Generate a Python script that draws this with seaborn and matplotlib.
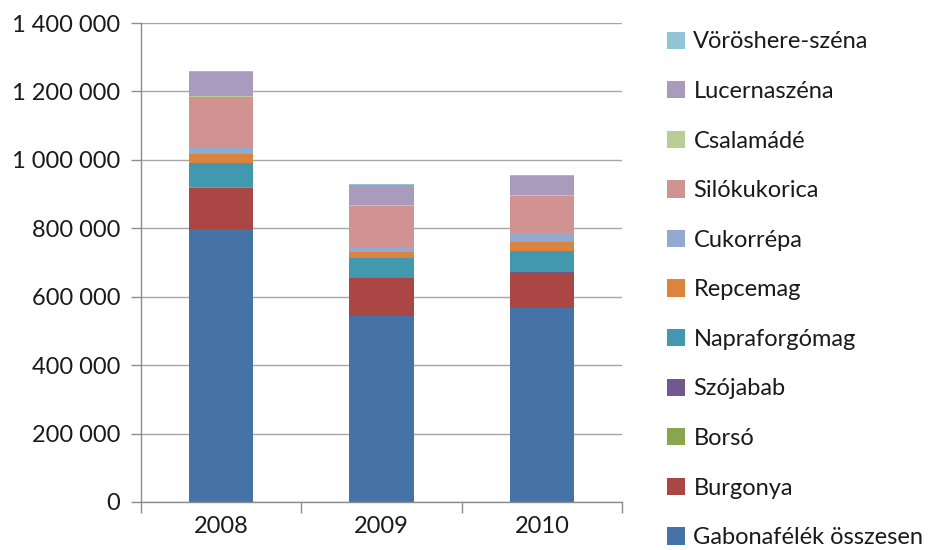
import numpy as np
import pandas as pd
import matplotlib
matplotlib.use("Agg")
import matplotlib.pyplot as plt
from matplotlib.patches import Patch
from matplotlib.ticker import FuncFormatter, FixedLocator
import seaborn as sns

years = ["2008", "2009", "2010"]

# Production by crop (tonnes), bottom of the stack first
series_names = [
    "Gabonafélék összesen", "Burgonya", "Borsó", "Szójabab", "Napraforgómag",
    "Repcemag", "Cukorrépa", "Silókukorica", "Csalamádé", "Lucernaszéna",
    "Vöröshere-széna",
]
gabona = [798000, 543000, 566000]
burgonya = [121000, 111000, 103000]
borso = [1500, 1000, 1000]
szojabab = [1500, 1000, 1000]
napraforgo = [69000, 57000, 63000]
repce = [25000, 17000, 25000]
cukorrepa = [20000, 16000, 23000]
silokukorica = [149000, 120000, 113000]
csalamade = [1500, 3000, 2000]
lucerna = [71000, 57000, 57000]
voroshere = [2500, 3000, 3000]

colors = [
    "#4572A7", "#AA4643", "#89A54E", "#71588F", "#4198AF",
    "#DB843D", "#93A9CF", "#D19392", "#B9CD96", "#A99BBD", "#92C5D7",
]

values = [gabona, burgonya, borso, szojabab, napraforgo, repce, cukorrepa,
          silokukorica, csalamade, lucerna, voroshere]

sns.set_theme(style="white")
plt.rcParams["font.family"] = ["Lato", "DejaVu Sans"]

text_color = "#1a1a1a"
line_color = "#8c8c8c"

fig = plt.figure(figsize=(9.3, 5.5), dpi=100)
ax = fig.add_axes([141 / 930, 1 - 502 / 550, (622 - 141) / 930, (502 - 23) / 550])

# Stack by overdrawing cumulative totals, tallest first
cum = np.cumsum(np.array(values, dtype=float), axis=0)
for i in range(len(series_names) - 1, -1, -1):
    df = pd.DataFrame({"year": years, "value": cum[i]})
    sns.barplot(data=df, x="year", y="value", color=colors[i], saturation=1,
                width=0.4, ax=ax, edgecolor="none", linewidth=0, errorbar=None)

ax.set_xlim(-0.5, 2.5)
ax.set_ylim(0, 1400000)
ax.set_yticks(np.arange(0, 1400001, 200000))
ax.yaxis.set_major_formatter(FuncFormatter(lambda v, p: f"{int(v):,}".replace(",", " ")))
ax.yaxis.grid(True, color="#a6a6a6", linewidth=1)
ax.set_axisbelow(True)
ax.set_xlabel("")
ax.set_ylabel("")

for side in ["top", "right"]:
    ax.spines[side].set_visible(False)
for side in ["left", "bottom"]:
    ax.spines[side].set_color(line_color)
    ax.spines[side].set_linewidth(1)

ax.tick_params(axis="y", which="major", direction="out", length=7, width=1,
               color=line_color, labelsize=17, labelcolor=text_color, pad=8, left=True)
ax.tick_params(axis="x", which="major", length=0, labelsize=17, labelcolor=text_color, pad=10)
ax.xaxis.set_minor_locator(FixedLocator([-0.5, 0.5, 1.5, 2.5]))
ax.tick_params(axis="x", which="minor", direction="out", length=8, width=1,
               color=line_color, bottom=True)

handles = [Patch(facecolor=colors[i], edgecolor="none") for i in range(len(series_names))][::-1]
labels = series_names[::-1]
fig.legend(handles, labels, loc="upper left", bbox_to_anchor=(658 / 930, 1 - 22 / 550),
           frameon=False, fontsize=17, labelcolor=text_color, handlelength=0.75,
           handleheight=0.75, handletextpad=0.35, labelspacing=1.21, borderaxespad=0)

fig.savefig("out.png", dpi=100, facecolor="white")
